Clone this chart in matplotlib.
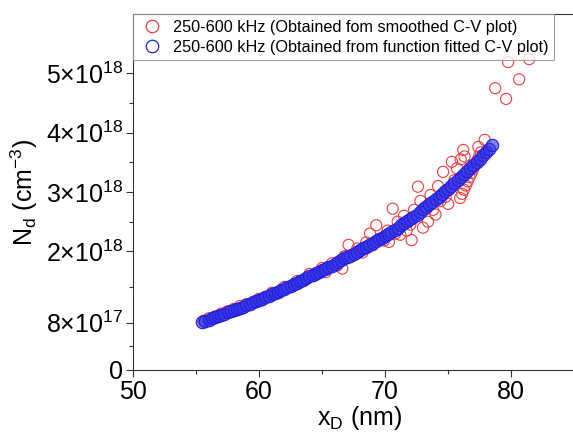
import matplotlib
matplotlib.use("Agg")
import matplotlib.pyplot as plt
from matplotlib.ticker import FixedLocator
from matplotlib.lines import Line2D

plt.rcParams['font.family'] = ['Liberation Sans', 'DejaVu Sans']
plt.rcParams['mathtext.fontset'] = 'custom'
plt.rcParams['mathtext.rm'] = 'Liberation Sans'
plt.rcParams['mathtext.it'] = 'Liberation Sans:italic'

# fitted C-V curve (x_D in nm, N_d in 1e18 cm^-3)
fit_x = [55.5, 55.75, 56, 56.25, 56.5, 56.75, 57, 57.25, 57.5, 57.75, 58, 58.25, 58.5,
         58.75, 59, 59.25, 59.5, 59.75, 60, 60.25, 60.5, 60.75, 61, 61.25, 61.5, 61.75,
         62, 62.25, 62.5, 62.75, 63, 63.25, 63.5, 63.75, 64, 64.25, 64.5, 64.75, 65,
         65.25, 65.5, 65.75, 66, 66.25, 66.5, 66.75, 67, 67.25, 67.5, 67.75, 68, 68.25,
         68.5, 68.75, 69, 69.25, 69.5, 69.75, 70, 70.25, 70.5, 70.75, 71, 71.25, 71.5,
         71.75, 72, 72.25, 72.5, 72.75, 73, 73.25, 73.5, 73.75, 74, 74.25, 74.5, 74.75,
         75, 75.25, 75.5, 75.75, 76, 76.25, 76.5, 76.75, 77, 77.25, 77.5, 77.75, 78,
         78.25, 78.5]
fit_y = [0.81, 0.83, 0.85, 0.87, 0.89, 0.91, 0.93, 0.95, 0.97, 0.99, 1.01, 1.03, 1.05,
         1.07, 1.09, 1.12, 1.14, 1.16, 1.18, 1.20, 1.23, 1.25, 1.28, 1.30, 1.32, 1.35,
         1.37, 1.40, 1.42, 1.45, 1.47, 1.50, 1.52, 1.55, 1.58, 1.60, 1.63, 1.65, 1.68,
         1.71, 1.74, 1.76, 1.79, 1.82, 1.85, 1.88, 1.90, 1.93, 1.96, 1.99, 2.02, 2.05,
         2.08, 2.11, 2.14, 2.17, 2.20, 2.23, 2.26, 2.29, 2.32, 2.36, 2.40, 2.44, 2.47,
         2.51, 2.55, 2.58, 2.62, 2.66, 2.71, 2.75, 2.79, 2.84, 2.88, 2.92, 2.96, 3.01,
         3.05, 3.10, 3.15, 3.20, 3.25, 3.30, 3.35, 3.40, 3.45, 3.51, 3.56, 3.62, 3.68,
         3.73, 3.79]

# smoothed C-V data
sm_x = [55.6, 56.0, 56.5, 57.0, 57.5, 58.0, 58.5, 59.0, 59.5, 60.0, 60.5, 61.0, 61.5,
        62.0, 62.5, 63.0, 63.5, 64.0, 64.5, 65.0, 65.3, 65.8, 66.2, 66.6, 66.8, 67.1,
        67.4, 67.8, 68.2, 68.5, 68.8, 69.0, 69.3, 69.6, 69.9, 70.2, 70.3, 70.6, 70.8,
        71.0, 71.2, 71.5, 71.7, 72.0, 72.1, 72.3, 72.6, 72.8, 73.0, 73.2, 73.4, 73.6,
        73.8, 74.0, 74.2, 74.4, 74.6, 74.8, 75.0, 75.2, 75.3, 75.5, 75.7, 76.0, 76.2,
        76.3, 77.4, 77.9,
        75.95, 76.1, 76.25, 76.4, 76.55, 76.7, 76.85, 77.0, 77.15, 77.3, 77.45, 77.6,
        78.73, 79.6, 79.76, 80.63, 81.43]
sm_y = [0.83, 0.87, 0.90, 0.95, 0.99, 1.03, 1.08, 1.11, 1.13, 1.20, 1.22, 1.30, 1.31,
        1.40, 1.41, 1.50, 1.51, 1.62, 1.60, 1.72, 1.65, 1.80, 1.76, 1.71, 1.92, 2.11,
        1.95, 2.05, 1.98, 2.15, 2.30, 2.10, 2.44, 2.20, 2.18, 2.35, 2.16, 2.72, 2.30,
        2.50, 2.28, 2.60, 2.35, 2.45, 2.19, 2.70, 3.09, 2.85, 2.40, 2.75, 2.50, 2.95,
        2.70, 2.62, 3.10, 2.85, 3.34, 2.92, 2.80, 3.07, 3.51, 3.20, 3.40, 3.55, 3.71,
        3.60, 3.76, 3.88,
        2.90, 2.97, 3.04, 3.11, 3.18, 3.25, 3.32, 3.39, 3.46, 3.53, 3.60, 3.67,
        4.75, 4.57, 5.19, 4.90, 5.24]

labels = ['250-600 kHz (Obtained fom smoothed C-V plot)',
          '250-600 kHz (Obtained from function fitted C-V plot)']

y_ticks = [0, 0.8, 2, 3, 4, 5]
y_labels = ['0', r'8×10$^{17}$', r'2×10$^{18}$', r'3×10$^{18}$', r'4×10$^{18}$', r'5×10$^{18}$']
y_minor = [0.4, 1.4, 2.5, 3.5, 4.5]

fig = plt.figure(figsize=(5.73, 4.33), dpi=100)
ax = fig.add_axes([0.2321, 0.1455, 0.792, 0.822])

ax.scatter(sm_x, sm_y, s=64, facecolors='none', edgecolors='#f03c3c', linewidths=0.8,
           zorder=2)
ax.scatter(fit_x, fit_y, s=80, facecolors=(0.2, 0.2, 0.9, 0.6), edgecolors='#2020e0',
           linewidths=0.8, zorder=3)

ax.set_xlim(50, 86)
ax.set_ylim(0, 6)
ax.set_xticks([50, 60, 70, 80])
ax.xaxis.set_minor_locator(FixedLocator([55, 65, 75, 85]))
ax.yaxis.set_major_locator(FixedLocator(y_ticks))
ax.set_yticklabels(y_labels)
ax.yaxis.set_minor_locator(FixedLocator(y_minor))

ax.spines['right'].set_visible(False)
for sp in ['left', 'bottom', 'top']:
    ax.spines[sp].set_linewidth(0.8)
    ax.spines[sp].set_color('#333333')
ax.tick_params(which='major', direction='out', length=5, width=0.8, labelsize=18,
               color='#333333')
ax.tick_params(which='minor', direction='out', length=3, width=0.8, color='#333333')
ax.tick_params(axis='x', pad=2)
ax.tick_params(axis='y', pad=2)

ax.set_xlabel(r'x$_\mathregular{D}$ (nm)', fontsize=18, labelpad=0)
ax.set_ylabel(r'N$_\mathregular{d}$ (cm$^\mathregular{-3}$)', fontsize=18, labelpad=4)

handles = [Line2D([], [], ls='none', marker='o', ms=9, mfc='none', mec='#f03c3c', mew=0.9),
           Line2D([], [], ls='none', marker='o', ms=9, mfc='none', mec='#2020e0', mew=0.9)]
leg = ax.legend(handles, labels, loc='upper left', bbox_to_anchor=(0, 1), borderaxespad=0,
                fontsize=11.7, fancybox=False, frameon=True, handletextpad=0.5,
                handlelength=1.6, borderpad=0.35, labelspacing=0.3)
leg.get_frame().set_edgecolor('#888888')
leg.get_frame().set_linewidth(0.8)

fig.savefig('out.png', dpi=100)
